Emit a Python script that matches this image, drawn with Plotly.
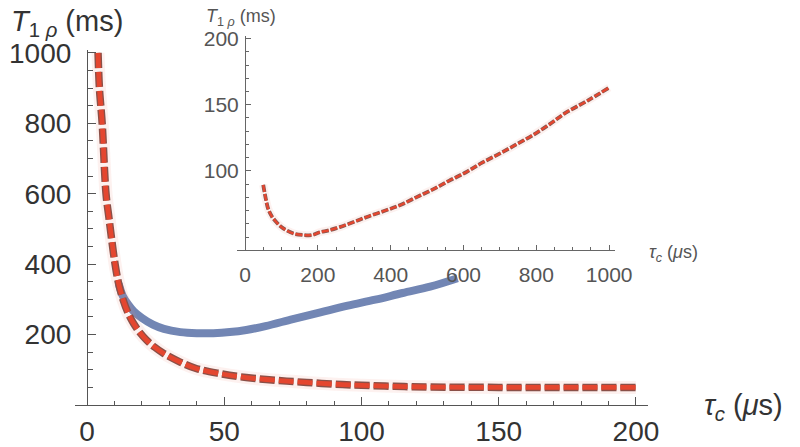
import plotly.graph_objects as go

# ---------------- data ----------------
# main panel: red dashed curve
red_tau = [4, 4.5, 5.5, 6.9, 8, 9, 10.2, 11.5, 13.2, 15, 16.9, 19.3, 21.7, 24.5, 27.8,
           33.9, 40, 48.5, 58, 69, 80, 93, 100, 112, 125, 150, 175, 200]
red_t1r = [1000, 900, 800, 600, 530, 468, 400, 345, 297, 260, 232, 205, 184, 165, 147,
           122, 103, 89, 78, 70, 64, 58, 56, 53, 51, 50, 50, 50]
# main panel: blue solid curve
blue_tau = [11.5, 13, 15, 17, 20, 24, 28, 34, 40, 46, 52, 58, 65, 75, 85, 95, 105, 115, 125, 135]
blue_t1r = [345, 310, 285, 266, 247, 228, 216, 207, 204, 204, 207, 213, 224, 244, 263, 282,
            299, 318, 336, 360]
# inset: red dashed curve over a long tau range
ins_tau = [50, 57, 64, 75, 87, 100, 114, 135, 160, 185, 205, 230, 260, 300, 333, 380, 425,
           470, 516, 560, 607, 650, 699, 745, 790, 835, 881, 940, 1000]
ins_t1r = [89.4, 79, 71, 65, 61, 57.5, 55, 52.5, 51.5, 51.5, 53.6, 55, 57.5, 61.5, 65, 69.5,
           74, 80, 86, 92.5, 99, 106, 113, 120, 127, 135, 144, 153, 163]

main_xticks = [0, 50, 100, 150, 200]
main_yticks = [200, 400, 600, 800, 1000]
ins_xticks = [0, 200, 400, 600, 800, 1000]
ins_yticks = [100, 150, 200]

# ---------------- layout geometry (pixels, screen coords) ----------------
W, H = 800, 447
OFF = 8                 # page body margin of the browser
L, R = 75 - OFF, 648 - OFF
T, B = 30 - OFF, 404.6 - OFF
PW, PH = R - L, B - T


def px(x):
    return (x - OFF - L) / PW


def py(y):
    return (B - (y - OFF)) / PH


FONT = "Liberation Sans, Arial, Helvetica, sans-serif"
RED = "#e4462f"
DARK = "#8a5048"
HALO = "rgba(240,140,120,0.12)"
BLUE = "#7286b4"
AX = "#555555"

fig = go.Figure()

# blue curve
fig.add_trace(go.Scatter(x=blue_tau, y=blue_t1r, mode="lines", line=dict(color=BLUE, width=8, shape="spline"),
                         xaxis="x", yaxis="y", showlegend=False, hoverinfo="skip"))
# red curve (halo, dark outline, red dashes)
fig.add_trace(go.Scatter(x=red_tau, y=red_t1r, mode="lines", line=dict(color=HALO, width=13, shape="spline"),
                         xaxis="x", yaxis="y", showlegend=False, hoverinfo="skip"))
fig.add_trace(go.Scatter(x=red_tau, y=red_t1r, mode="lines",
                         line=dict(color=DARK, width=7.5, dash="15px,4px", shape="spline"),
                         xaxis="x", yaxis="y", showlegend=False, hoverinfo="skip"))
fig.add_trace(go.Scatter(x=red_tau, y=red_t1r, mode="lines",
                         line=dict(color=RED, width=4.8, dash="15px,4px", shape="spline"),
                         xaxis="x", yaxis="y", showlegend=False, hoverinfo="skip"))

# inset curve
fig.add_trace(go.Scatter(x=ins_tau, y=ins_t1r, mode="lines", line=dict(color=HALO, width=8, shape="spline"),
                         xaxis="x2", yaxis="y2", showlegend=False, hoverinfo="skip"))
fig.add_trace(go.Scatter(x=ins_tau, y=ins_t1r, mode="lines",
                         line=dict(color="#7d5a55", width=3.8, dash="7px,2px", shape="spline"),
                         xaxis="x2", yaxis="y2", showlegend=False, hoverinfo="skip"))
fig.add_trace(go.Scatter(x=ins_tau, y=ins_t1r, mode="lines",
                         line=dict(color=RED, width=2.4, dash="7px,2px", shape="spline"),
                         xaxis="x2", yaxis="y2", showlegend=False, hoverinfo="skip"))

main_tickfont = dict(family=FONT, size=28, color="#333333")
ins_tickfont = dict(family=FONT, size=21, color="#555555")

# inset geometry (screen px)
IL, IR = 237, 615
IT, IB = 36, 250

fig.update_layout(
    width=W, height=H,
    margin=dict(l=L, r=W - R, t=T, b=H - B, pad=0, autoexpand=False),
    paper_bgcolor="white", plot_bgcolor="rgba(0,0,0,0)",
    xaxis=dict(domain=[0, 1], range=[-4.4, 204.4], anchor="y", automargin=False,
               showgrid=False, zeroline=False, showline=True, linecolor=AX, linewidth=1.2,
               tickvals=main_xticks, ticks="inside", ticklen=8, tickwidth=1, tickcolor=AX,
               minor=dict(dtick=10, tick0=0, ticks="inside", ticklen=4, tickcolor=AX, tickwidth=1),
               tickfont=main_tickfont, ticklabelstandoff=1),
    yaxis=dict(domain=[0, py(50)], range=[0, 1008], anchor="free", position=px(87), automargin=False,
               showgrid=False, zeroline=False, showline=True, linecolor=AX, linewidth=1.2,
               tickvals=main_yticks, ticks="inside", ticklen=8, tickwidth=1, tickcolor=AX,
               minor=dict(dtick=50, tick0=0, ticks="inside", ticklen=5, tickcolor=AX, tickwidth=1),
               tickfont=main_tickfont, ticklabelstandoff=10),
    xaxis2=dict(domain=[px(IL), px(IR)], range=[-22, 1016], anchor="y2", automargin=False,
                showgrid=False, zeroline=False, showline=True, linecolor="#666666", linewidth=1,
                tickvals=ins_xticks, ticks="inside", ticklen=5, tickwidth=1, tickcolor="#666666",
                minor=dict(dtick=50, tick0=0, ticks="inside", ticklen=3, tickcolor="#666666", tickwidth=1),
                tickfont=ins_tickfont, ticklabelstandoff=6),
    yaxis2=dict(domain=[py(IB), py(IT)], range=[40, 202], anchor="free", position=px(245), automargin=False,
                showgrid=False, zeroline=False, showline=True, linecolor="#666666", linewidth=1,
                tickvals=ins_yticks, ticks="inside", ticklen=5, tickwidth=1, tickcolor="#666666",
                minor=dict(dtick=10, tick0=0, ticks="inside", ticklen=3, tickcolor="#666666", tickwidth=1),
                tickfont=ins_tickfont, ticklabelstandoff=2),
    annotations=[
        dict(text="<i>T</i><sub>1 <i>ρ</i></sub> (ms)", xref="paper", yref="paper",
             x=px(9), y=py(23), xanchor="left", yanchor="middle", showarrow=False,
             font=dict(family=FONT, size=29, color="#333333")),
        dict(text="<i>τ</i><sub><i>c</i></sub> (<i>μ</i>s)", xref="paper", yref="paper",
             x=px(702), y=py(407), xanchor="left", yanchor="middle", showarrow=False,
             font=dict(family=FONT, size=29, color="#333333")),
        dict(text="<i>T</i><sub>1 <i>ρ</i></sub> (ms)", xref="paper", yref="paper",
             x=px(204), y=py(18), xanchor="left", yanchor="middle", showarrow=False,
             font=dict(family=FONT, size=18, color="#555555")),
        dict(text="<i>τ</i><sub><i>c</i></sub> (<i>μ</i>s)", xref="paper", yref="paper",
             x=px(647), y=py(253), xanchor="left", yanchor="middle", showarrow=False,
             font=dict(family=FONT, size=18, color="#555555")),
    ],
)

fig.write_html("out.html")
